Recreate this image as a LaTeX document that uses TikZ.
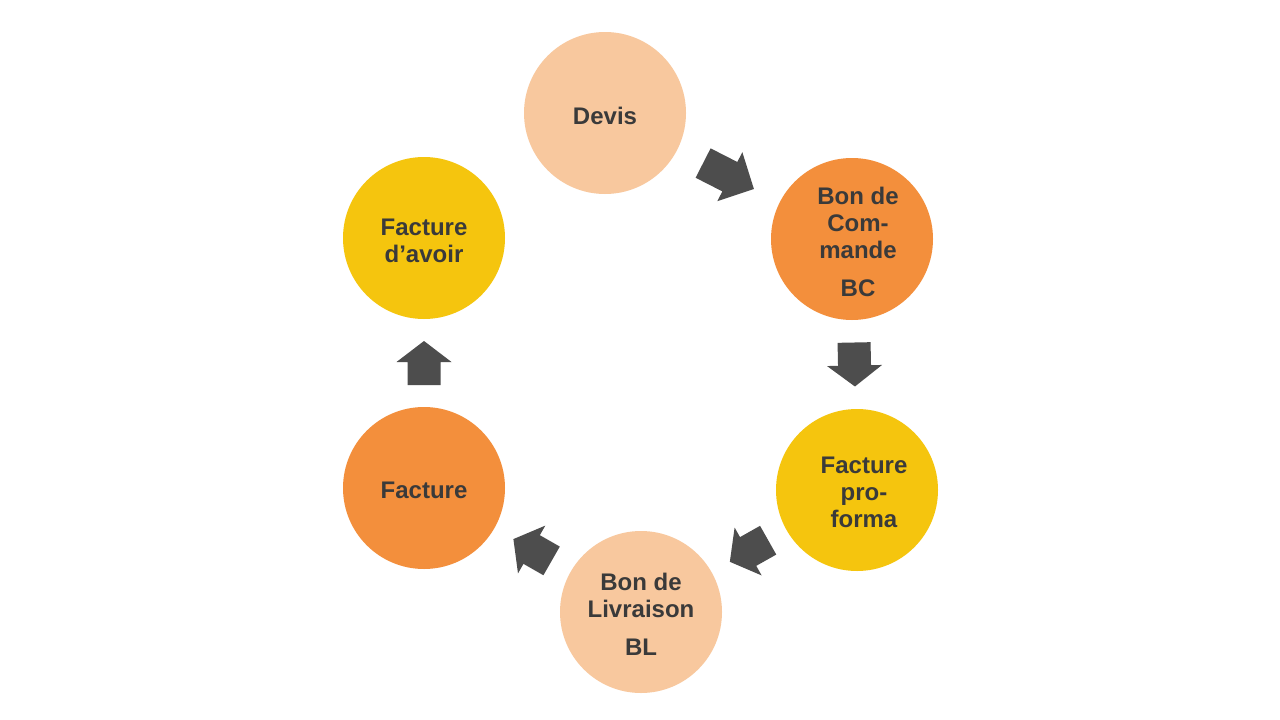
\documentclass[tikz,border=0pt]{standalone}
\usepackage{fontspec}
\setmainfont{Liberation Sans}
\usetikzlibrary{calc}
\definecolor{peach}{RGB}{248,200,158}
\definecolor{orangec}{RGB}{243,143,60}
\definecolor{yellowc}{RGB}{245,197,14}
\definecolor{arrowgray}{RGB}{77,77,77}
\definecolor{textgray}{RGB}{58,58,58}
\tikzset{
  stagetext/.style={align=center, text=textgray, yshift=-2.5pt,
    font=\fontsize{24}{27}\selectfont\bfseries},
  stage/.style={circle, minimum size=162pt, inner sep=0pt},
  arrowfill/.style={fill=arrowgray},
}
\newcommand\flowarrow[4]{%
  \pgfmathanglebetweenpoints{\pgfpointanchor{#1}{center}}{\pgfpointanchor{#2}{center}}%
  \let\arrang\pgfmathresult
  \pgfmathsetmacro\halfL{(#3+#4)/2}%
  \pgfmathsetmacro\neck{#3-(#3+#4)/2}%
  \fill[arrowfill, shift={($(#1)!0.5!(#2)$)}, rotate=\arrang]
    (-\halfL,-16.5) -- (\neck,-16.5) -- (\neck,-27.5) -- (\halfL,0)
    -- (\neck,27.5) -- (\neck,16.5) -- (-\halfL,16.5) -- cycle;
}
\begin{document}
\begin{tikzpicture}[x=1pt,y=-1pt]
\path[use as bounding box, fill=white] (0,0) rectangle (1280,720);
\node[stage, fill=peach,
  label={[stagetext]center:Devis}] (devis) at (605,113) {};
\node[stage, fill=orangec,
  label={[stagetext, xshift=6pt]center:Bon de\\Com-\\mande\\[11pt]BC}] (bc) at (852,239) {};
\node[stage, fill=yellowc,
  label={[stagetext, xshift=7pt]center:Facture\\pro-\\forma}] (pf) at (857,490) {};
\node[stage, fill=peach,
  label={[stagetext]center:Bon de\\Livraison\\[11pt]BL}] (bl) at (641,612) {};
\node[stage, fill=orangec,
  label={[stagetext]center:Facture}] (fac) at (424,488) {};
\node[stage, fill=yellowc,
  label={[stagetext]center:Facture\\d’avoir}] (avoir) at (424,238) {};
\flowarrow{devis}{bc}{30}{27}
\flowarrow{bc}{pf}{23}{21}
\flowarrow{pf}{bl}{23}{21}
\flowarrow{bl}{fac}{23}{21}
\flowarrow{fac}{avoir}{23}{21}
\end{tikzpicture}
\end{document}
